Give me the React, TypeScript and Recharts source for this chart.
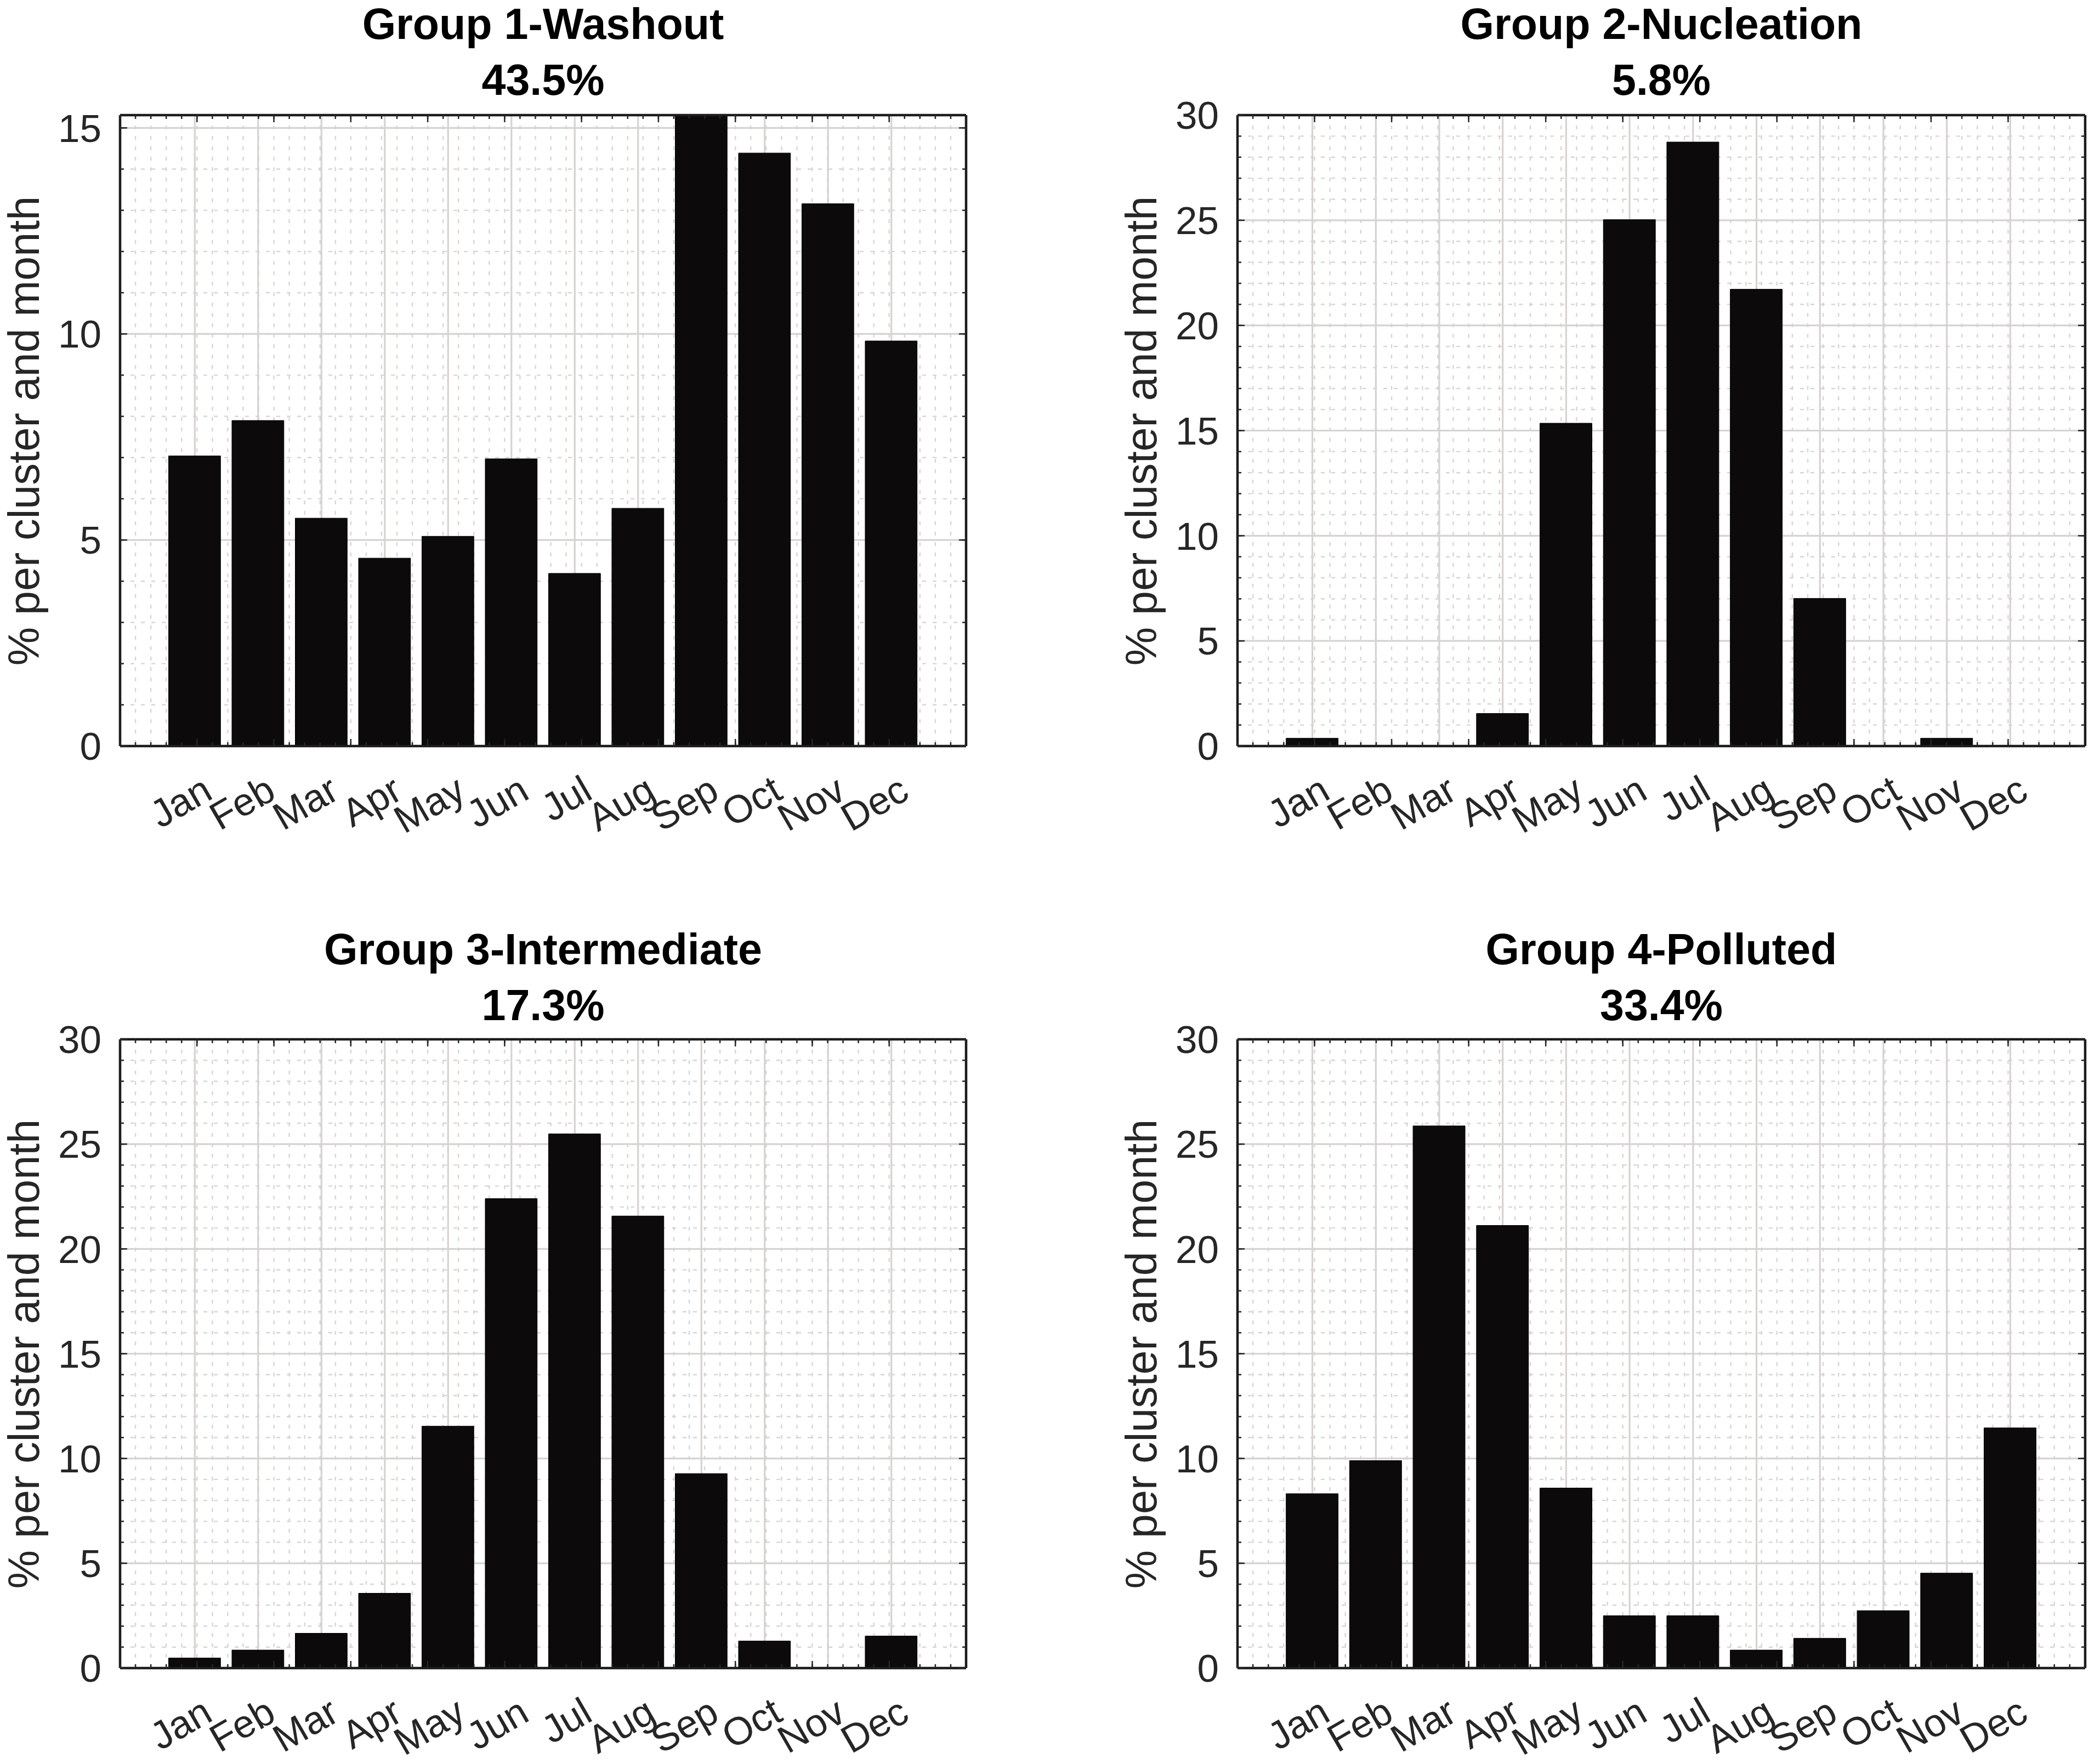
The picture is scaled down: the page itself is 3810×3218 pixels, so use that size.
import React from 'react';
import { BarChart, Bar, XAxis, YAxis, CartesianGrid } from 'recharts';

// ---------- data ----------
const MONTHS = ['Jan', 'Feb', 'Mar', 'Apr', 'May', 'Jun', 'Jul', 'Aug', 'Sep', 'Oct', 'Nov', 'Dec'];
const MONTH_POS = [1, 2, 3, 4, 5, 6, 7, 8, 9, 10, 11, 12];

const G1_WASHOUT = [7.04, 7.9, 5.53, 4.56, 5.09, 6.97, 4.19, 5.77, 15.31, 14.39, 13.16, 9.83];
const G2_NUCLEATION = [0.37, 0, 0, 1.55, 15.35, 25.03, 28.72, 21.72, 7.02, 0, 0.37, 0];
const G3_INTERMEDIATE = [0.48, 0.86, 1.66, 3.57, 11.54, 22.4, 25.49, 21.57, 9.28, 1.29, 0, 1.53];
const G4_POLLUTED = [8.32, 9.9, 25.87, 21.12, 8.59, 2.5, 2.5, 0.86, 1.42, 2.74, 4.53, 11.46];

const TITLES = ['Group 1-Washout', 'Group 2-Nucleation', 'Group 3-Intermediate', 'Group 4-Polluted'];
const SHARES = ['43.5%', '5.8%', '17.3%', '33.4%'];
const Y_LABEL = '% per cluster and month';

const Y_TICKS_15 = [0, 5, 10, 15];
const Y_TICKS_30 = [0, 5, 10, 15, 20, 25, 30];
const Y_MAX = [15.31, 30, 30, 30];

// ---------- layout / style ----------
const FONT = '"Liberation Sans", Arial, Helvetica, sans-serif';
const X_DOMAIN: [number, number] = [-0.18, 13.18];
const X_MINOR = Array.from({ length: 66 }, (_, i) => Math.round(i * 2) / 10);
const minorY = (max: number) => Array.from({ length: Math.floor(max) + 1 }, (_, i) => i);

const YAXIS_W = 200;
const XAXIS_H = 230;
const M_TOP = 60;
const M_RIGHT = 4;
const THIN = 0.01;

const AXIS_COLOR = '#1c1c1c';
const AXIS_W = 4.5;
const TICK_COLOR = '#262626';
const TICK_FONT = 71;
const LABEL_FONT = 79;

const PANELS = [
  { plotLeft: 219, plotTop: 210, plotW: 1543, plotH: 1151, title1: 43, title2: 145 },
  { plotLeft: 2257, plotTop: 210, plotW: 1546, plotH: 1151, title1: 43, title2: 145 },
  { plotLeft: 219, plotTop: 1896, plotW: 1543, plotH: 1147, title1: 1731, title2: 1833 },
  { plotLeft: 2257, plotTop: 1896, plotW: 1546, plotH: 1147, title1: 1731, title2: 1833 },
];

const SERIES = [G1_WASHOUT, G2_NUCLEATION, G3_INTERMEDIATE, G4_POLLUTED];

const EmptyTick = () => <g />;

const MonthTick = (props: any) => {
  const { x, y, payload } = props;
  const idx = MONTH_POS.indexOf(payload.value);
  const label = idx >= 0 ? MONTHS[idx] : '';
  const ax = x + 36;
  const ay = y + 94;
  return (
    <text
      x={ax}
      y={ay}
      transform={`rotate(-30 ${ax} ${ay})`}
      textAnchor="end"
      fontSize={TICK_FONT}
      fontFamily={FONT}
      fill={TICK_COLOR}
    >
      {label}
    </text>
  );
};

const TitleLine = ({ text, cx, capCenter }: { text: string; cx: number; capCenter: number }) => (
  <div
    style={{
      position: 'absolute',
      left: cx - 900,
      width: 1800,
      top: capCenter - LABEL_FONT * 0.49,
      textAlign: 'center',
      fontFamily: FONT,
      fontWeight: 'bold',
      fontSize: LABEL_FONT,
      lineHeight: 1,
      color: '#000',
      whiteSpace: 'nowrap',
    }}
  >
    {text}
  </div>
);

function Panel({ i }: { i: number }) {
  const p = PANELS[i];
  const values = SERIES[i];
  const yMax = Y_MAX[i];
  const yTicks = i === 0 ? Y_TICKS_15 : Y_TICKS_30;
  const yMinor = minorY(yMax);
  const rows = MONTH_POS.map((pos, k) => ({ pos, month: MONTHS[k], value: values[k] }));

  const width = p.plotW + YAXIS_W + M_RIGHT;
  const height = p.plotH + M_TOP + XAXIS_H;
  const left = p.plotLeft - YAXIS_W;
  const top = p.plotTop - M_TOP;
  const pxPerUnit = p.plotW / (X_DOMAIN[1] - X_DOMAIN[0]);
  const barSize = pxPerUnit * 0.82;
  const cx = p.plotLeft + p.plotW / 2;

  const mirrorX = (id: string, orientation: 'top' | 'bottom', ticks: number[], size: number, line: boolean) => (
    <XAxis
      key={id}
      xAxisId={id}
      type="number"
      orientation={orientation}
      mirror
      height={THIN}
      domain={X_DOMAIN}
      allowDataOverflow
      ticks={ticks}
      interval={0}
      tick={EmptyTick}
      tickSize={size}
      tickLine={{ stroke: TICK_COLOR, strokeWidth: 2.5 }}
      axisLine={line ? { stroke: AXIS_COLOR, strokeWidth: AXIS_W } : false}
    />
  );
  const mirrorY = (id: string, orientation: 'left' | 'right', ticks: number[], size: number, line: boolean) => (
    <YAxis
      key={id}
      yAxisId={id}
      type="number"
      orientation={orientation}
      mirror
      width={THIN}
      domain={[0, yMax]}
      allowDataOverflow
      ticks={ticks}
      interval={0}
      tick={EmptyTick}
      tickSize={size}
      tickLine={{ stroke: TICK_COLOR, strokeWidth: 2.5 }}
      axisLine={line ? { stroke: AXIS_COLOR, strokeWidth: AXIS_W } : false}
    />
  );

  return (
    <>
      <TitleLine text={TITLES[i]} cx={cx} capCenter={p.title1} />
      <TitleLine text={SHARES[i]} cx={cx} capCenter={p.title2} />
      <div
        style={{
          position: 'absolute',
          left: p.plotLeft - 176,
          top: p.plotTop + p.plotH / 2,
          transform: 'translate(-50%, -50%) rotate(-90deg)',
          fontFamily: FONT,
          fontSize: LABEL_FONT,
          lineHeight: 1,
          color: TICK_COLOR,
          whiteSpace: 'nowrap',
        }}
      >
        {Y_LABEL}
      </div>
      <div style={{ position: 'absolute', left, top, width, height }}>
        <BarChart
          width={width}
          height={height}
          data={rows}
          margin={{ top: M_TOP, right: M_RIGHT, bottom: 0, left: 0 }}
          barSize={barSize}
        >
          <CartesianGrid
            xAxisId="xminor"
            yAxisId="yminor"
            stroke="#d6d6d6"
            strokeWidth={2.4}
            strokeDasharray="7 12"
          />
          <CartesianGrid xAxisId="x" yAxisId="y" stroke="#d6d3d1" strokeWidth={3.2} />
          <XAxis
            xAxisId="x"
            dataKey="pos"
            type="number"
            domain={X_DOMAIN}
            allowDataOverflow
            ticks={MONTH_POS}
            interval={0}
            height={XAXIS_H}
            tickSize={0}
            tickMargin={0}
            tickLine={false}
            axisLine={{ stroke: AXIS_COLOR, strokeWidth: AXIS_W }}
            tick={<MonthTick />}
          />
          <YAxis
            yAxisId="y"
            type="number"
            domain={[0, yMax]}
            allowDataOverflow
            ticks={yTicks}
            interval={0}
            width={YAXIS_W}
            tickSize={0}
            tickMargin={34}
            tickLine={false}
            axisLine={{ stroke: AXIS_COLOR, strokeWidth: AXIS_W }}
            tick={{ fontSize: TICK_FONT, fill: TICK_COLOR, fontFamily: FONT }}
          />
          {mirrorX('xminor', 'bottom', X_MINOR, 7, false)}
          {mirrorX('xbot', 'bottom', MONTH_POS, 13, false)}
          {mirrorX('xtop', 'top', MONTH_POS, 13, true)}
          {mirrorX('xtopminor', 'top', X_MINOR, 7, false)}
          {mirrorY('yminor', 'left', yMinor, 7, false)}
          {mirrorY('yleft', 'left', yTicks, 13, false)}
          {mirrorY('yright', 'right', yTicks, 13, true)}
          {mirrorY('yrightminor', 'right', yMinor, 7, false)}
          <Bar
            xAxisId="x"
            yAxisId="y"
            dataKey="value"
            fill="#0c0a0a"
            stroke="#000"
            strokeWidth={1}
            isAnimationActive={false}
          />
        </BarChart>
      </div>
    </>
  );
}

export default function App() {
  return (
    <div
      style={{
        position: 'absolute',
        left: 0,
        top: 0,
        width: 3810,
        height: 3218,
        overflow: 'hidden',
        background: '#fff',
      }}
    >
      {[0, 1, 2, 3].map((i) => (
        <Panel key={i} i={i} />
      ))}
    </div>
  );
}
